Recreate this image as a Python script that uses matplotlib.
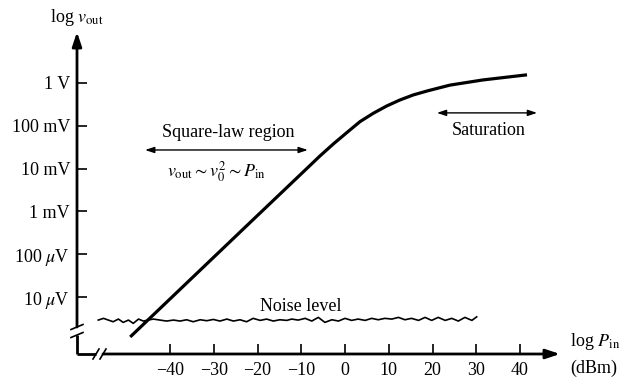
import numpy as np
import matplotlib
matplotlib.use('Agg')
import matplotlib.pyplot as plt

# ---------------- data ----------------
x_ticks = [-40, -30, -20, -10, 0, 10, 20, 30, 40]
x_labels = ['\u221240', '\u221230', '\u221220', '\u221210', '0', '10', '20', '30', '40']
y_ticks = [1.0, 0.1, 0.01, 1e-3, 1e-4, 1e-5]
y_labels = ['1 V', '100 mV', '10 mV', '1 mV', '100 $\\mu$V', '10 $\\mu$V']

# detector response (P_in in dBm, v_out in volts)
curve_dbm = [-49.1, -21.7, -14.2, -8.75, -5.71, -2.67, 0.39, 3.43, 6.47, 9.53,
             12.57, 15.6, 19.04, 24.0, 31.5, 41.6]
curve_v = [1.17e-6, 5.5e-4, 2.95e-3, 0.0100, 0.0198, 0.0376, 0.069, 0.125, 0.196,
           0.290, 0.401, 0.525, 0.661, 0.891, 1.175, 1.549]

# noise floor trace (dBm, microvolts)
noise_dbm = [-56.4, -55.2, -54.1, -53.0, -51.8, -50.7, -49.5, -48.4, -47.2, -46.1,
             -45.0, -43.8, -42.3, -40.8, -39.2, -37.7, -36.2, -34.7, -33.1, -31.6,
             -30.1, -28.6, -27.0, -25.5, -24.0, -22.5, -21.0, -19.4, -17.9, -16.4,
             -14.9, -13.3, -12.2, -10.7, -9.1, -7.6, -6.1, -4.6, -3.0, -1.5,
             0.0, 1.5, 3.0, 4.6, 6.1, 7.6, 9.1, 10.7, 12.2, 13.7,
             15.2, 16.8, 18.3, 19.8, 21.3, 22.9, 24.4, 25.9, 27.4, 29.0, 30.1]
noise_uv = [2.90, 3.18, 2.90, 2.65, 3.06, 2.56, 2.90, 2.43, 3.06, 2.75,
            2.90, 3.06, 2.90, 2.75, 2.90, 2.75, 2.95, 2.65, 2.95, 2.80,
            3.00, 2.75, 3.06, 2.75, 2.95, 2.65, 3.18, 2.85, 3.06, 2.75,
            2.95, 2.85, 3.06, 2.90, 3.18, 2.75, 3.35, 2.56, 2.95, 2.75,
            3.18, 2.85, 3.06, 2.85, 3.18, 2.95, 3.18, 3.06, 3.35, 2.95,
            3.18, 2.85, 3.35, 2.85, 3.35, 2.85, 3.18, 2.75, 3.35, 2.85, 3.45]

# ---------------- style ----------------
plt.rcParams['font.family'] = ['Liberation Serif', 'DejaVu Serif']
plt.rcParams['mathtext.fontset'] = 'stix'
FS = 13

fig = plt.figure(figsize=(6.32, 3.8), dpi=100)
fig.patch.set_facecolor('white')
AX_W, AX_H = 483, 322
ax = fig.add_axes([77 / 632, 26 / 380, AX_W / 632, AX_H / 380])
ax.set_yscale('log')
ax.set_xlim(-61.26, 49.14)
ax.set_ylim(10 ** -6.33, 10 ** 1.19)
for s in ax.spines.values():
    s.set_visible(False)

ax.set_xticks(x_ticks)
ax.set_xticklabels(x_labels)
ax.set_yticks(y_ticks)
ax.set_yticklabels(y_labels)
ax.minorticks_off()
ax.tick_params(axis='both', direction='in', length=7.5, width=1.2,
               labelsize=FS, color='k')
ax.tick_params(axis='x', pad=6)
ax.tick_params(axis='y', pad=5)

# curves
ax.plot(curve_dbm, curve_v, color='k', lw=2.3, solid_capstyle='butt',
        solid_joinstyle='round')
ax.plot(noise_dbm, np.array(noise_uv) * 1e-6, color='k', lw=1.2)

# ---------------- axis lines with arrows & breaks ----------------
T = ax.transAxes
def fx(p):  # pixel offset -> axes fraction (x)
    return p / AX_W
def fy(p):
    return p / AX_H

lw_ax = 2.0
head = '-|>,head_length=0.6,head_width=0.2'
# y axis
ax.plot([0, 0], [0, fy(354 - 335)], transform=T, color='k', lw=lw_ax,
        clip_on=False, solid_capstyle='butt')
ax.annotate('', xy=(0, 1), xytext=(0, fy(354 - 327)), xycoords='axes fraction',
            arrowprops=dict(arrowstyle=head, lw=lw_ax, color='k',
                            mutation_scale=14, shrinkA=0, shrinkB=0))
for yb in (335, 327):
    y0 = fy(354 - yb)
    ax.plot([fx(-6), fx(6)], [y0 - fy(2.5), y0 + fy(2.5)], transform=T,
            color='k', lw=1.2, clip_on=False)
# x axis
ax.plot([0, fx(96 - 77)], [0, 0], transform=T, color='k', lw=lw_ax,
        clip_on=False, solid_capstyle='butt')
ax.annotate('', xy=(1, 0), xytext=(fx(103 - 77), 0), xycoords='axes fraction',
            arrowprops=dict(arrowstyle=head, lw=lw_ax, color='k',
                            mutation_scale=14, shrinkA=0, shrinkB=0))
for xb in (96, 103):
    x0 = fx(xb - 77)
    ax.plot([x0 - fx(3), x0 + fx(3)], [-fy(5), fy(5)], transform=T,
            color='k', lw=1.2, clip_on=False)

# axis titles
fig.text(77 / 632, 1 - 18 / 380, 'log $v_{\\mathrm{out}}$', ha='center', va='center',
         fontsize=FS)
fig.text(570 / 632, 1 - 342 / 380, 'log $P_{\\mathrm{in}}$', ha='left', va='center',
         fontsize=FS)
fig.text(570 / 632, 1 - 368 / 380, '(dBm)', ha='left', va='center', fontsize=FS)

# annotations
ax.text(-26.7, 0.068, 'Square-law region', ha='center', va='center', fontsize=FS)
ax.annotate('', xy=(-45.7, 0.0272), xytext=(-8.5, 0.0272),
            arrowprops=dict(arrowstyle='<|-|>,head_length=0.6,head_width=0.2',
                            lw=1.0, color='k', mutation_scale=9,
                            shrinkA=0, shrinkB=0))
ax.text(-29.5, 0.0083, '$v_{\\mathrm{out}} \\sim v_0^2 \\sim P_{\\mathrm{in}}$',
        ha='center', va='center', fontsize=FS)
ax.text(32.9, 0.076, 'Saturation', ha='center', va='center', fontsize=FS)
ax.annotate('', xy=(21.0, 0.2), xytext=(43.9, 0.2),
            arrowprops=dict(arrowstyle='<|-|>,head_length=0.6,head_width=0.2',
                            lw=1.0, color='k', mutation_scale=9,
                            shrinkA=0, shrinkB=0))
ax.text(-10.1, 5.9e-6, 'Noise level', ha='center', va='center', fontsize=FS)

fig.savefig('out.png', dpi=100, facecolor='white')
